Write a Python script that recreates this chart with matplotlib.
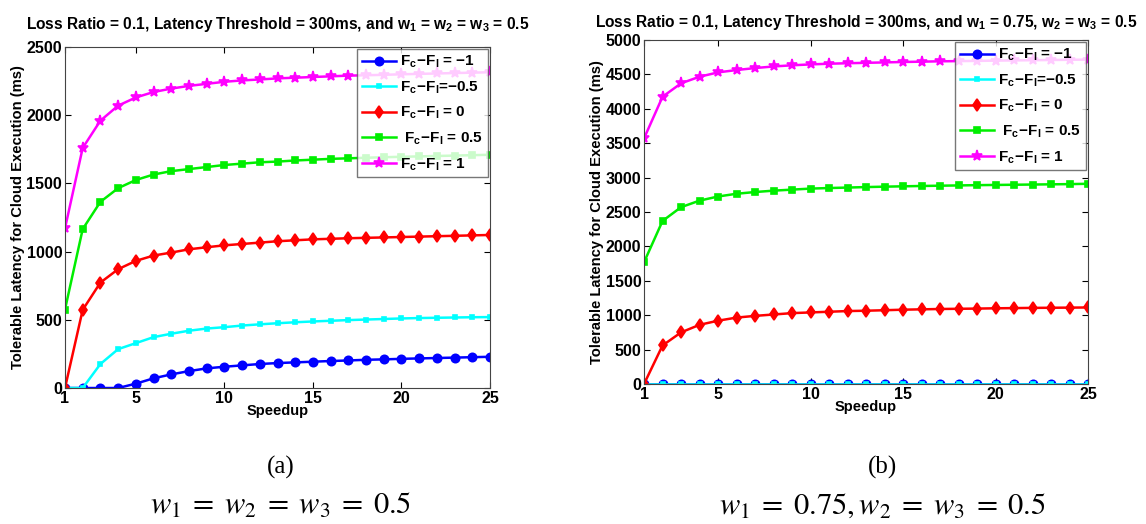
import numpy as np
import matplotlib
matplotlib.use("Agg")
import matplotlib.pyplot as plt

plt.rcParams['font.family'] = ['Liberation Sans', 'DejaVu Sans']
plt.rcParams['mathtext.fontset'] = 'custom'
plt.rcParams['mathtext.rm'] = 'Liberation Sans:bold'
plt.rcParams['mathtext.bf'] = 'Liberation Sans:bold'
plt.rcParams['mathtext.it'] = 'Liberation Sans:bold'

# speedup values
speedup = list(range(1, 26))

# (a) w1 = w2 = w3 = 0.5
a_m1 = [0, 0, 0, 0, 32, 71, 100, 124, 144, 156, 166, 176, 183, 188, 193,
        198, 202, 207, 210, 214, 217, 220, 223, 226, 229]
a_m05 = [0, 0, 176, 285, 329, 373, 398, 420, 436, 446, 458, 467, 475, 482, 488,
         493, 498, 502, 506, 510, 513, 515, 517, 519, 520]
a_0 = [0, 573, 773, 871, 932, 971, 993, 1017, 1032, 1046, 1056, 1066, 1076, 1083, 1090,
       1094, 1098, 1101, 1104, 1107, 1110, 1113, 1116, 1119, 1122]
a_05 = [575, 1165, 1365, 1465, 1525, 1565, 1590, 1605, 1620, 1635, 1645, 1655, 1660, 1668, 1674,
        1680, 1684, 1688, 1692, 1695, 1698, 1701, 1704, 1707, 1710]
a_1 = [1170, 1760, 1960, 2070, 2130, 2170, 2195, 2215, 2230, 2245, 2255, 2262, 2270, 2275, 2280,
       2285, 2290, 2293, 2296, 2300, 2303, 2306, 2309, 2312, 2315]

# (b) w1 = 0.75, w2 = w3 = 0.5
b_m1 = [0] * 25
b_m05 = [0] * 25
b_0 = [0, 560, 750, 860, 920, 965, 990, 1010, 1030, 1040, 1050, 1060, 1065, 1072, 1080,
       1085, 1090, 1093, 1096, 1100, 1103, 1106, 1108, 1110, 1112]
b_05 = [1770, 2370, 2570, 2665, 2725, 2765, 2790, 2810, 2825, 2840, 2848, 2855, 2862, 2868, 2873,
        2878, 2882, 2886, 2890, 2893, 2896, 2899, 2902, 2905, 2910]
b_1 = [3570, 4175, 4370, 4466, 4529, 4563, 4592, 4615, 4632, 4645, 4655, 4662, 4668, 4674, 4680,
       4685, 4690, 4693, 4696, 4700, 4703, 4706, 4709, 4712, 4715]

labels = [r'$\mathbf{F_c\!-\!F_l}$ = $-$1', r'$\mathbf{F_c\!-\!F_l}$=$-$0.5',
          r'$\mathbf{F_c\!-\!F_l}$ = 0', r' $\mathbf{F_c\!-\!F_l}$ = 0.5', r'$\mathbf{F_c\!-\!F_l}$ = 1']
styles = [('#0000ff', 'o', 6), ('#00ffff', 's', 2.5), ('#ff0000', 'd', 6),
          ('#00ee00', 's', 5), ('#ff00ff', '*', 8)]

fig = plt.figure(figsize=(11.46, 5.24), dpi=100)
axa = fig.add_axes([0.0567, 0.2595, 0.3709, 0.6508])
axb = fig.add_axes([0.562, 0.2672, 0.3874, 0.6565])

panels = [
    (axa, [a_m1, a_m05, a_0, a_05, a_1], 2500,
     r'Loss Ratio = 0.1, Latency Threshold = 300ms, and w$_1$ = w$_2$ = w$_3$ = 0.5', 13),
    (axb, [b_m1, b_m05, b_0, b_05, b_1], 5000,
     r'Loss Ratio = 0.1, Latency Threshold = 300ms, and w$_1$ = 0.75, w$_2$ = w$_3$ = 0.5', 9.5),
]

for ax, series, ymax, title, tpad in panels:
    for vals, lab, (c, mk, ms) in zip(series, labels, styles):
        ax.plot(speedup, vals, color=c, marker=mk, markersize=ms, linewidth=1.8,
                markeredgewidth=1.2, label=lab)
    ax.set_xlim(1, 25)
    ax.set_ylim(0, ymax)
    ax.set_xticks([1, 5, 10, 15, 20, 25])
    ax.set_yticks(np.arange(0, ymax + 1, 500))
    ax.tick_params(direction='in', top=True, right=True, labelsize=11.5, length=4, pad=2)
    for t in ax.get_xticklabels() + ax.get_yticklabels():
        t.set_fontweight('bold')
    for s in ax.spines.values():
        s.set_color('#444444')
    ax.set_xlabel('Speedup', fontsize=10.5, fontweight='bold', labelpad=-1)
    ax.set_ylabel('Tolerable Latency for Cloud Execution (ms)', fontsize=10.6,
                  fontweight='bold', labelpad=1)
    ax.set_title(title, fontsize=11.2, fontweight='bold', pad=tpad)
    leg = ax.legend(loc='upper right', prop={'size': 11, 'weight': 'bold'},
                    frameon=True, fancybox=False,
                    handlelength=2.2, labelspacing=0.6, borderpad=0.3,
                    handletextpad=0.3, borderaxespad=0.15)
    leg.get_frame().set_edgecolor('#555555')
    leg.get_frame().set_linewidth(1.0)

fig.text(0.245, 0.108, '(a)', ha='center', va='center', fontsize=18,
         family='Liberation Serif')
fig.text(0.245, 0.035, r'$w_1\;=\;w_2\;=\;w_3\;=\;0.5$', ha='center', va='center',
         fontsize=22, math_fontfamily='stix')
fig.text(0.77, 0.108, '(b)', ha='center', va='center', fontsize=18,
         family='Liberation Serif')
fig.text(0.77, 0.035, r'$w_1\;=\;0.75,w_2\;=\;w_3\;=\;0.5$', ha='center', va='center',
         fontsize=22, math_fontfamily='stix')

fig.savefig('out.png', dpi=100)
